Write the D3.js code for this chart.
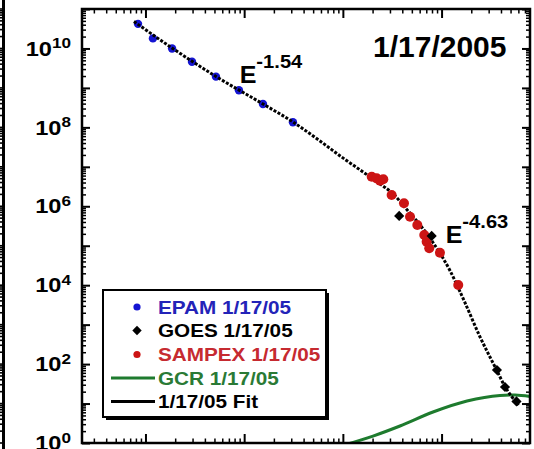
<!DOCTYPE html>
<html><head><meta charset="utf-8">
<script src="https://cdn.jsdelivr.net/npm/d3@7"></script>
<style>html,body{margin:0;padding:0;background:#fff;}svg{display:block;}</style>
</head><body>
<svg id="c" width="534" height="449"></svg>
<script>
// ---- data (energy in MeV, fluence) ----
const epamE = [0.084, 0.119, 0.186, 0.296, 0.518, 0.885, 1.55, 3.12];
const epamF = [4.2e10, 1.8e10, 1.0e10, 4.6e9, 1.93e9, 8.7e8, 3.9e8, 1.35e8];
const goesE = [37.2, 79.4, 364, 439, 574];
const goesF = [5.68e5, 1.77e5, 70.9, 26.3, 11.3];
const sampexE = [19.6, 22.0, 23.8, 25.7, 31.2, 41.6, 47.9, 56.8, 66.8, 70.6, 75.0, 96.3, 147.6];
const sampexF = [5.6e6, 5.1e6, 4.46e6, 4.83e6, 1.93e6, 1.19e6, 5.45e5, 3.36e5, 1.87e5, 1.27e5, 8.6e4, 6.67e4, 1.01e4];
const fitE = [0.0764, 0.1855, 0.518, 1.55, 3.12, 5.86, 10.7, 15.5, 23.0, 31.6, 44.9, 60.0, 81.2, 120.8, 171.4, 243, 361, 436, 604];
const fitF = [4.83e10, 1.03e10, 1.95e9, 3.92e8, 1.37e8, 4.52e7, 1.49e7, 7.85e6, 3.9e6, 2.17e6, 8.05e5, 3.46e5, 1.24e5, 2.43e4, 3.75e3, 515, 70.8, 27.9, 9.2];
const gcrE = [7.4, 20.2, 37.9, 81.9, 181, 391, 554, 787];
const gcrF = [0.705, 1.50, 2.70, 6.1, 11.6, 16.0, 16.5, 15.1];
const yLabelExps = [0, 2, 4, 6, 8, 10];
const legendLabels = ["EPAM 1/17/05", "GOES 1/17/05", "SAMPEX 1/17/05", "GCR 1/17/05", "1/17/05 Fit"];
const title = "1/17/2005";
const slopeLabels = [{base: "E", sup: "-1.54", e: 0.90, f: 1.33e9}, {base: "E", sup: "-4.63", e: 110, f: 1.15e5}];

const BLUE = "#1414d2", RED = "#cc1414", GREEN = "#1e7b2e", BLACK = "#000";
const REDTXT = "#c62a30", BLUETXT = "#2323b8", GREENTXT = "#2a7a35";

const svg = d3.select("#c");
const L = 82, R = 530, T = 9, B = 443;
const x = d3.scaleLog().domain([0.02275, 787]).range([L, R]);
const y = d3.scaleLog().domain([1, 1e11]).range([B, T]);

svg.append("defs").append("clipPath").attr("id", "pc")
  .append("rect").attr("x", L).attr("y", T).attr("width", R - L).attr("height", B - T);

// neighbouring panel edge at far left
const nb = svg.append("g");
nb.append("line").attr("x1", 3.5).attr("x2", 3.5).attr("y1", 0).attr("y2", 449).attr("stroke", BLACK).attr("stroke-width", 3);
const yMajor = d3.range(0, 12).map(e => Math.pow(10, e));
const yMinor = [];
for (let e = 0; e < 11; e++) for (let k = 2; k <= 9; k++) yMinor.push(k * Math.pow(10, e));
nb.selectAll(".nbt").data(yMinor.concat(yMajor)).join("line")
  .attr("x1", 0).attr("x2", 5).attr("y1", d => y(d)).attr("y2", d => y(d))
  .attr("stroke", BLACK).attr("stroke-width", 1.6);

// axes ticks
const xMajor = [0.1, 1, 10, 100];
const xMinor = [];
for (let e = -2; e <= 2; e++) for (let k = 2; k <= 9; k++) {
  const v = k * Math.pow(10, e);
  if (v > 0.02275 && v < 787) xMinor.push(v);
}
function styleAxis(g, w) {
  g.select(".domain").remove();
  g.selectAll("text").remove();
  g.selectAll("line").attr("stroke", BLACK).attr("stroke-width", w);
}
svg.append("g").attr("transform", `translate(${L},0)`).call(d3.axisLeft(y).tickValues(yMajor).tickSize(-8)).call(styleAxis, 2);
svg.append("g").attr("transform", `translate(${L},0)`).call(d3.axisLeft(y).tickValues(yMinor).tickSize(-4)).call(styleAxis, 1.5);
svg.append("g").attr("transform", `translate(${R},0)`).call(d3.axisRight(y).tickValues(yMajor).tickSize(-8)).call(styleAxis, 2);
svg.append("g").attr("transform", `translate(${R},0)`).call(d3.axisRight(y).tickValues(yMinor).tickSize(-4)).call(styleAxis, 1.5);
svg.append("g").attr("transform", `translate(0,${B})`).call(d3.axisBottom(x).tickValues(xMajor).tickSize(-9)).call(styleAxis, 2);
svg.append("g").attr("transform", `translate(0,${B})`).call(d3.axisBottom(x).tickValues(xMinor).tickSize(-4.5)).call(styleAxis, 1.5);
svg.append("g").attr("transform", `translate(0,${T})`).call(d3.axisTop(x).tickValues(xMajor).tickSize(-9)).call(styleAxis, 2);
svg.append("g").attr("transform", `translate(0,${T})`).call(d3.axisTop(x).tickValues(xMinor).tickSize(-4.5)).call(styleAxis, 1.5);

// y tick labels
const FONT = "'Liberation Sans', Arial, Helvetica, sans-serif";
yLabelExps.forEach(e => {
  const t = svg.append("text")
    .attr("transform", `translate(71,${y(Math.pow(10, e)) + 7.2}) scale(1.18,1)`)
    .attr("text-anchor", "end").attr("font-family", FONT).attr("font-weight", "bold")
    .attr("font-size", 20).attr("fill", BLACK);
  t.append("tspan").text("10");
  t.append("tspan").attr("font-size", 14.5).attr("dy", -7.5).text(String(e));
});

// plotted series
const plot = svg.append("g").attr("clip-path", "url(#pc)");
const line = d3.line().x(d => x(d[0])).y(d => y(d[1])).curve(d3.curveMonotoneX);
plot.append("path").datum(d3.zip(gcrE, gcrF)).attr("d", line)
  .attr("fill", "none").attr("stroke", GREEN).attr("stroke-width", 3);
plot.selectAll(".ep").data(d3.zip(epamE, epamF)).join("circle")
  .attr("cx", d => x(d[0])).attr("cy", d => y(d[1])).attr("r", 4.2).attr("fill", BLUE);
plot.append("path").datum(d3.zip(fitE, fitF)).attr("d", line)
  .attr("fill", "none").attr("stroke", BLACK).attr("stroke-width", 3).attr("stroke-dasharray", "3,1.6");
plot.selectAll(".sp").data(d3.zip(sampexE, sampexF)).join("circle")
  .attr("cx", d => x(d[0])).attr("cy", d => y(d[1])).attr("r", 5).attr("fill", RED);
const dia = d3.symbol(d3.symbolSquare, 52);
plot.selectAll(".gp").data(d3.zip(goesE, goesF)).join("path")
  .attr("d", dia).attr("transform", d => `translate(${x(d[0])},${y(d[1])}) rotate(45)`).attr("fill", BLACK);

// frame
svg.append("rect").attr("x", L).attr("y", T).attr("width", R - L).attr("height", B - T)
  .attr("fill", "none").attr("stroke", BLACK).attr("stroke-width", 2.5);

// title
svg.append("text").attr("x", 373).attr("y", 57).attr("font-family", FONT).attr("font-weight", "bold")
  .attr("font-size", 30).attr("fill", BLACK).text(title);

// power-law annotations
slopeLabels.forEach(s => {
  const t = svg.append("text")
    .attr("transform", `translate(${x(s.e)},${y(s.f)}) scale(1.09,1)`)
    .attr("font-family", FONT).attr("font-weight", "bold").attr("font-size", 23).attr("fill", BLACK);
  t.append("tspan").text(s.base);
  t.append("tspan").attr("font-size", 18.5).attr("dy", -15).text(s.sup);
});

// legend
const lg = svg.append("g");
lg.append("rect").attr("x", 106).attr("y", 293).attr("width", 223).attr("height", 127).attr("fill", BLACK);
lg.append("rect").attr("x", 103).attr("y", 290).attr("width", 223).attr("height", 127)
  .attr("fill", "#fff").attr("stroke", BLACK).attr("stroke-width", 2);
const rowY = [307, 330.5, 354.5, 378, 401.5];
const txtCol = [BLUETXT, BLACK, REDTXT, GREENTXT, BLACK];
lg.append("circle").attr("cx", 137).attr("cy", rowY[0]).attr("r", 3.6).attr("fill", BLUE);
lg.append("path").attr("d", d3.symbol(d3.symbolSquare, 44)).attr("transform", `translate(137,${rowY[1]}) rotate(45)`).attr("fill", BLACK);
lg.append("circle").attr("cx", 137).attr("cy", rowY[2]).attr("r", 3.6).attr("fill", RED);
lg.append("line").attr("x1", 111).attr("x2", 155).attr("y1", rowY[3]).attr("y2", rowY[3]).attr("stroke", GREEN).attr("stroke-width", 3);
lg.append("line").attr("x1", 111).attr("x2", 155).attr("y1", rowY[4]).attr("y2", rowY[4]).attr("stroke", BLACK).attr("stroke-width", 3);
legendLabels.forEach((s, i) => {
  lg.append("text").attr("transform", `translate(158,${rowY[i] + 6.6}) scale(1.12,1)`)
    .attr("font-family", FONT).attr("font-weight", "bold").attr("font-size", 18.5)
    .attr("fill", txtCol[i]).text(s);
});
</script>
</body></html>
